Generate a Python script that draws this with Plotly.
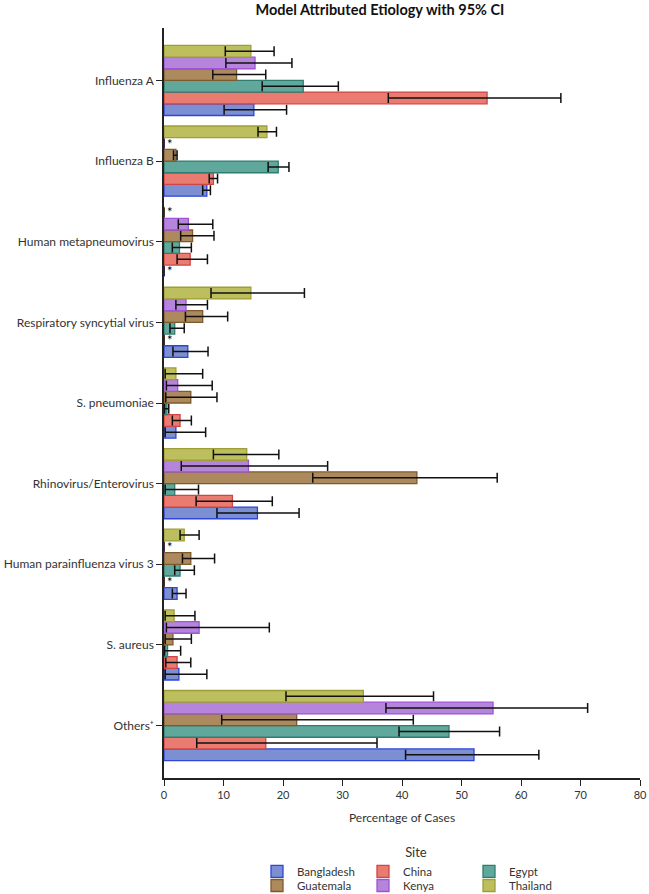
import plotly.graph_objects as go

categories = ["Influenza A", "Influenza B", "Human metapneumovirus",
              "Respiratory syncytial virus", "S. pneumoniae",
              "Rhinovirus/Enterovirus", "Human parainfluenza virus 3",
              "S. aureus", "Others⁺"]

sites = ["Bangladesh", "China", "Egypt", "Guatemala", "Kenya", "Thailand"]

bangladesh = [15.1, 7.2, 0, 4.0, 2.0, 15.7, 2.2, 2.5, 52.1]
bangladesh_lo = [10.1, 6.5, 0, 1.5, 0.2, 8.9, 1.4, 0.2, 40.6]
bangladesh_hi = [20.6, 7.8, 0, 7.4, 7.0, 22.7, 3.7, 7.2, 63.0]

china = [54.3, 8.3, 4.4, 0, 2.7, 11.5, 0, 2.2, 17.1]
china_lo = [37.7, 7.6, 2.2, 0, 1.4, 5.4, 0, 0.3, 5.5]
china_hi = [66.7, 9.0, 7.3, 0, 4.6, 18.2, 0, 4.5, 35.8]

egypt = [23.4, 19.2, 2.6, 1.8, 0.5, 1.8, 2.7, 0.6, 47.9]
egypt_lo = [16.5, 17.5, 1.4, 1.0, 0.1, 0.2, 1.8, 0.1, 39.5]
egypt_hi = [29.3, 21.0, 4.6, 3.4, 0.8, 5.8, 5.1, 2.8, 56.4]

guatemala = [12.2, 2.0, 4.8, 6.5, 4.5, 42.5, 4.5, 1.5, 22.3]
guatemala_lo = [8.2, 1.6, 2.8, 3.6, 0.3, 25.0, 3.1, 0.2, 9.7]
guatemala_hi = [17.1, 2.2, 8.4, 10.7, 8.9, 56.0, 8.5, 4.6, 41.9]

kenya = [15.3, 0, 4.1, 3.7, 2.3, 14.2, 0, 5.9, 55.3]
kenya_lo = [10.4, 0, 2.4, 2.0, 0.4, 2.9, 0, 0.4, 37.3]
kenya_hi = [21.5, 0, 8.2, 7.3, 8.1, 27.5, 0, 17.7, 71.2]

thailand = [14.6, 17.3, 0, 14.6, 2.0, 13.9, 3.4, 1.7, 33.5]
thailand_lo = [10.3, 15.8, 0, 7.9, 0.2, 8.3, 2.7, 0.2, 20.5]
thailand_hi = [18.5, 18.9, 0, 23.6, 6.5, 19.3, 5.9, 5.2, 45.3]

# categories with no detections (marked with *)
flag_bangladesh = ["Human metapneumovirus"]
flag_china = ["Respiratory syncytial virus", "Human parainfluenza virus 3"]
flag_egypt = []
flag_guatemala = []
flag_kenya = ["Influenza B", "Human parainfluenza virus 3"]
flag_thailand = ["Human metapneumovirus"]

series = [
    ("Bangladesh", bangladesh, bangladesh_lo, bangladesh_hi, flag_bangladesh, "#7B8FD2", "#2E45D6", "legend"),
    ("China", china, china_lo, china_hi, flag_china, "#E97B70", "#D04545", "legend"),
    ("Egypt", egypt, egypt_lo, egypt_hi, flag_egypt, "#5FA89B", "#2F7D70", "legend"),
    ("Guatemala", guatemala, guatemala_lo, guatemala_hi, flag_guatemala, "#AD8A5E", "#7D5A2E", "legend2"),
    ("Kenya", kenya, kenya_lo, kenya_hi, flag_kenya, "#B585DB", "#A052D8", "legend2"),
    ("Thailand", thailand, thailand_lo, thailand_hi, flag_thailand, "#BDBE5E", "#9E9E38", "legend2"),
]

FONT = "Lato"
W, H = 649, 894

fig = go.Figure()
for name, vals, lo, hi, flags, fill, line, lg in series:
    plus = [h - v for v, h in zip(vals, hi)]
    minus = [v - l for v, l in zip(vals, lo)]
    texts = ["*" if c in flags else "" for c in categories]
    fig.add_trace(go.Bar(
        name=name, y=categories, x=vals, orientation="h",
        marker=dict(color=fill, line=dict(color=line, width=1.3)),
        error_x=dict(type="data", array=plus, arrayminus=minus, symmetric=False,
                     color="#111111", thickness=1.5, width=5),
        text=texts, textposition="outside", constraintext="none",
        textfont=dict(size=13, color="#000000", family=FONT),
        legend=lg, cliponaxis=False,
    ))

fig.update_layout(
    width=W, height=H,
    margin=dict(l=164, r=9, t=28, b=116, autoexpand=False),
    paper_bgcolor="white", plot_bgcolor="white",
    font=dict(family=FONT, size=12, color="#222222"),
    barmode="group", bargap=0.13, bargroupgap=0,
    title=dict(text="<b>Model Attributed Etiology with 95% CI</b>",
               x=380 / W, xanchor="center", xref="container",
               y=1 - 10 / H, yanchor="middle", yref="container",
               font=dict(size=14.5, color="#111111", family=FONT)),
    xaxis=dict(range=[0, 80], tickvals=list(range(0, 81, 10)),
               showgrid=False, zeroline=False, automargin=False,
               showline=True, linecolor="#222222", linewidth=1.5,
               ticks="outside", ticklen=6, tickwidth=1.2, tickcolor="#222222",
               tickfont=dict(size=11, color="#333333"),
               title=dict(text="Percentage of Cases", font=dict(size=12, color="#333333"), standoff=14)),
    yaxis=dict(type="category", categoryorder="array",
               categoryarray=categories[::-1],
               range=[-0.65, len(categories) - 0.35],
               showgrid=False, zeroline=False, automargin=False,
               showline=True, linecolor="#222222", linewidth=1.5,
               ticks="outside", ticklen=6, tickwidth=1.2, tickcolor="#222222",
               tickfont=dict(size=12, color="#333333")),
    legend=dict(orientation="h", xref="container", yref="container",
                x=257 / W, xanchor="left",
                y=1 - 840 / H, yanchor="top",
                entrywidth=61, entrywidthmode="pixels",
                title=dict(text="Site", side="top center", font=dict(size=13, color="#333333")),
                font=dict(size=11.5, color="#333333"), bgcolor="rgba(0,0,0,0)",
                traceorder="normal"),
    legend2=dict(orientation="h", xref="container", yref="container",
                 x=257 / W, xanchor="left",
                 y=1 - 871 / H, yanchor="top",
                 entrywidth=61, entrywidthmode="pixels",
                 font=dict(size=11.5, color="#333333"), bgcolor="rgba(0,0,0,0)",
                 traceorder="normal"),
)

fig.write_html("out.html", config={"displayModeBar": False},
               post_script="document.body.style.margin='0';document.body.style.overflow='hidden';")
